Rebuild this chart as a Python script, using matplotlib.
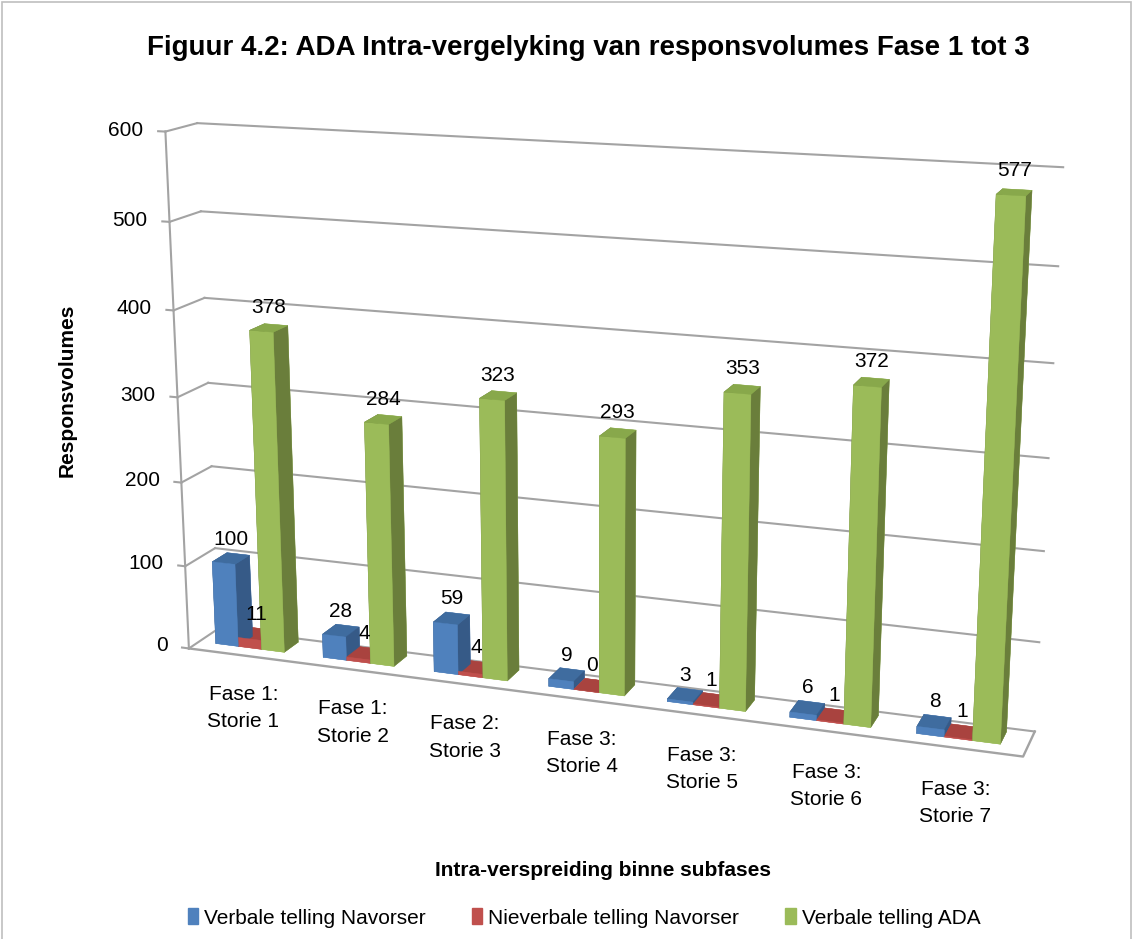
import warnings
import matplotlib
matplotlib.use("Agg")
import matplotlib.pyplot as plt
from matplotlib.patches import Patch, Rectangle
from mpl_toolkits.mplot3d import Axes3D, proj3d  # noqa

warnings.filterwarnings("ignore")
plt.rcParams['font.family'] = ['Liberation Sans', 'DejaVu Sans']

# ---------------- data ----------------
categories = ["Fase 1:\nStorie 1", "Fase 1:\nStorie 2", "Fase 2:\nStorie 3",
              "Fase 3:\nStorie 4", "Fase 3:\nStorie 5", "Fase 3:\nStorie 6",
              "Fase 3:\nStorie 7"]
series_names = ["Verbale telling Navorser", "Nieverbale telling Navorser",
                "Verbale telling ADA"]
verbale_navorser = [100, 28, 59, 9, 3, 6, 8]
nieverbale_navorser = [11, 4, 4, 0, 1, 1, 1]
verbale_ada = [378, 284, 323, 293, 353, 372, 577]
z_ticks = [0, 100, 200, 300, 400, 500, 600]

title = "Figuur 4.2: ADA Intra-vergelyking van responsvolumes Fase 1 tot 3"
ylabel = "Responsvolumes"
xlabel = "Intra-verspreiding binne subfases"

# ---------------- style ----------------
face_cols = ["#4F81BD", "#C0504D", "#9BBB59"]
top_cols = ["#3F6C9F", "#A9433F", "#88A84B"]
side_cols = ["#365A87", "#8A3835", "#6A7E3B"]
grid_c = "#A3A3A3"

W, H = 1134, 939
fig = plt.figure(figsize=(W / 100, H / 100), dpi=100)
fig.patch.set_facecolor("white")

# 3D axes with a camera matched to the reference's perspective
ax = fig.add_axes([0.09726, 0.03250, 0.82804, 1.0], projection="3d")
n = len(categories)
x0, x1, y0, y1 = 0, n, 0, 1
zmax = z_ticks[-1]
ax.set_xlim(x0, x1)
ax.set_ylim(y0, y1)
ax.set_zlim(0, zmax)
ax.set_axis_off()
ax.computed_zorder = False
ax.view_init(elev=14.895, azim=-70.531)
ax.set_proj_type("persp", focal_length=0.4768)
ax.set_box_aspect((880, 65.76, 546.56), zoom=1.0952)

# walls / gridlines
lines = []
for z in z_ticks:
    lines += ax.plot([x0, x0], [y0, y1], [z, z], color=grid_c, lw=1.5, zorder=1)
    lines += ax.plot([x0, x1], [y1, y1], [z, z], color=grid_c, lw=1.5, zorder=1)
    lines += ax.plot([x0 - 0.065, x0], [y0, y0], [z, z], color=grid_c, lw=1.5, zorder=1)
lines += ax.plot([x0, x0], [y0, y0], [0, zmax], color=grid_c, lw=1.5, zorder=1)
lines += ax.plot([x0, x1, x1], [y0, y0, y1], [0, 0, 0], color=grid_c, lw=1.7, zorder=1)
for ln in lines:
    ln.set_clip_on(False)

# bars
series = [verbale_navorser, nieverbale_navorser, verbale_ada]
offsets = [0.155, 0.37, 0.585]
bw = 0.212
by0, bdy = 0.35, 0.5
xs, ys, zs, dxs, dys, dzs, fcs = [], [], [], [], [], [], []
for s, vals in enumerate(series):
    for i, v in enumerate(vals):
        xs.append(i + offsets[s]); ys.append(by0); zs.append(0)
        dxs.append(bw); dys.append(bdy); dzs.append(v)
        # faces: -z, +z, -y, +y, -x, +x
        fcs += [face_cols[s], top_cols[s], face_cols[s], face_cols[s],
                side_cols[s], side_cols[s]]
bars = ax.bar3d(xs, ys, zs, dxs, dys, dzs, color=fcs, shade=False,
                edgecolor=fcs, linewidth=0.3, zorder=2)
bars.set_clip_on(False)

# project 3D anchor points to figure coordinates for the 2D texts
fig.canvas.draw()
M = ax.get_proj()


def to_fig(x, y, z):
    px, py, _ = proj3d.proj_transform(x, y, z, M)
    dx, dy = ax.transData.transform((px, py))
    return dx / W, dy / H


# z tick labels
for z in z_ticks:
    fx, fy = to_fig(x0 - 0.2, y0, z)
    fig.text(fx, fy, str(z), ha="right", va="center", fontsize=15)

# data labels
for s, vals in enumerate(series):
    for i, v in enumerate(vals):
        fx, fy = to_fig(i + offsets[s] + bw / 2, by0 + bdy / 2, v + 12)
        fig.text(fx, fy, str(v), ha="center", va="bottom", fontsize=15)

# category labels
for i, c in enumerate(categories):
    fx, fy = to_fig(i + 0.5, y0, -36)
    fig.text(fx, fy, c, ha="center", va="top", fontsize=15, linespacing=1.55)

fig.text(588 / W, 1 - 48 / H, title, ha="center", va="center",
         fontsize=20, fontweight="bold")
fig.text(67 / W, 1 - 390 / H, ylabel, ha="center", va="center",
         rotation=90, fontsize=15, fontweight="bold")
fig.text(603 / W, 1 - 870 / H, xlabel, ha="center", va="center",
         fontsize=15, fontweight="bold")

handles = [Patch(facecolor=c, edgecolor=c) for c in face_cols]
fig.legend(handles, series_names, loc="center", ncol=3,
           bbox_to_anchor=(0.515, 1 - 918 / H), frameon=False, fontsize=15,
           handlelength=0.5, handleheight=0.8, handletextpad=0.3,
           columnspacing=2.2)

fig.add_artist(Rectangle((0.002, -0.01), 0.995, 1.008, transform=fig.transFigure,
                         fill=False, edgecolor="#BFBFBF", lw=1.2))

fig.savefig("out.png", dpi=100, facecolor="white")
